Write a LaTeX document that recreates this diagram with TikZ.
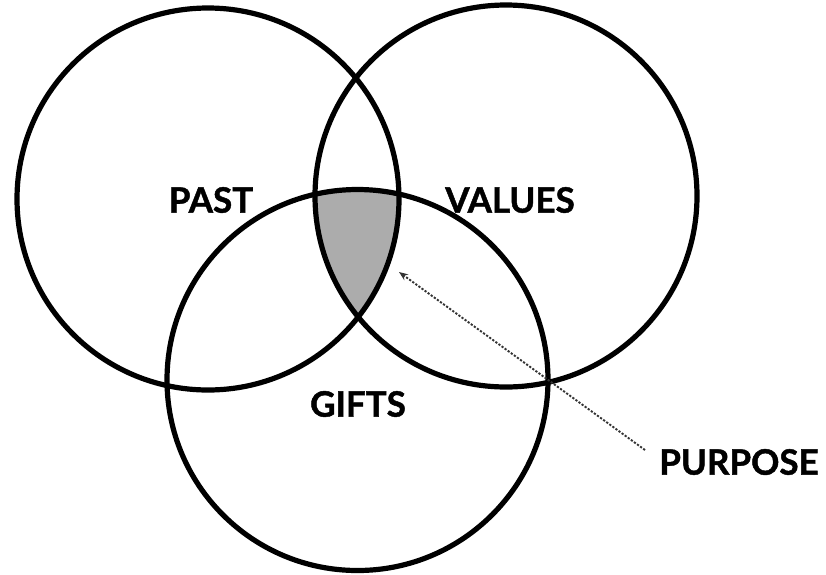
\documentclass[tikz,border=0pt]{standalone}
\usepackage{fontspec}
\setmainfont{Lato}[BoldFeatures={FakeBold=1.3}]
\usetikzlibrary{arrows.meta}
\begin{document}
\begin{tikzpicture}[x=1pt,y=-1pt,
  ring/.style={draw=black,line width=5.2pt,circle,inner sep=0pt,minimum size=#1},
  lbl/.style={font=\fontsize{35}{40}\selectfont\bfseries,text=black,inner sep=0pt},
  ptr/.style={draw=black!80,line width=1.9pt,dash pattern=on 2.2pt off 1.6pt,-{Stealth[length=9pt,width=7pt]}}]
\useasboundingbox (0,0) rectangle (826,574);
% shaded triple intersection
\begin{scope}
  \clip (208,199) circle[radius=191];
  \clip (506,196) circle[radius=191];
  \fill[gray!65] (357.5,380) circle[radius=190.5];
\end{scope}
\node[ring=382pt] (cpast) at (208,199) {};
\node[ring=382pt] (cvalues) at (506,196) {};
\node[ring=381pt] (cgifts) at (357.5,380) {};
\node[lbl] (past) at (211,200) {PAST};
\node[lbl] (values) at (510,200) {VALUES};
\node[lbl] (gifts) at (358,404) {GIFTS};
\node[lbl] (purpose) at (739,462) {PURPOSE};
\coordinate (start) at (645,450);
\coordinate (tip) at (399,272);
\draw[ptr] (start) -- (tip);
\end{tikzpicture}
\end{document}
